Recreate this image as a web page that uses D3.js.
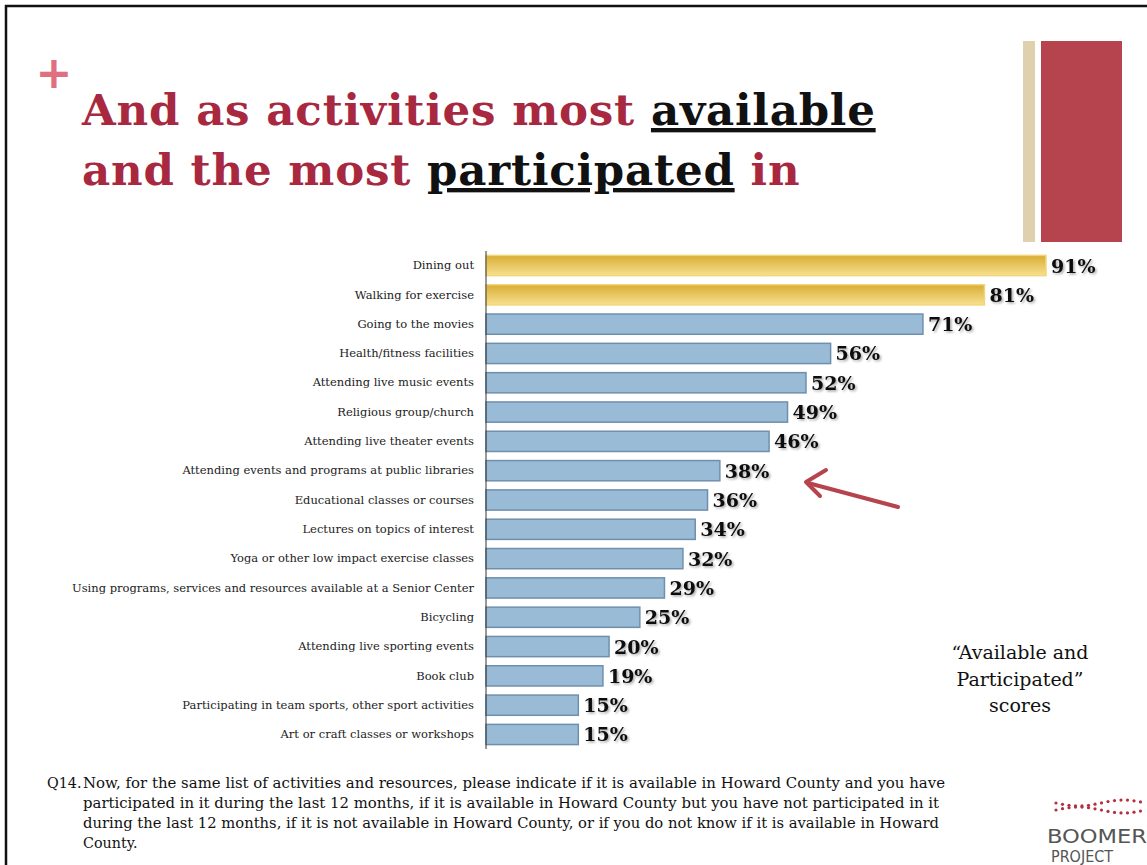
<!DOCTYPE html>
<html><head><meta charset="utf-8">
<script src="https://cdn.jsdelivr.net/npm/d3@7"></script>
<style>body{margin:0;background:#fff}svg{display:block}</style>
</head><body>
<svg id="c" width="1147" height="865"></svg>
<script>
const categories = ["Dining out","Walking for exercise","Going to the movies","Health/fitness facilities","Attending live music events","Religious group/church","Attending live theater events","Attending events and programs at public libraries","Educational classes or courses","Lectures on topics of interest","Yoga or other low impact exercise classes","Using programs, services and resources available at a Senior Center","Bicycling","Attending live sporting events","Book club","Participating in team sports, other sport activities","Art or craft classes or workshops"];
const values = [91,81,71,56,52,49,46,38,36,34,32,29,25,20,19,15,15];
const highlighted = ["Dining out","Walking for exercise"];
const titleLine1 = [["And as activities most ",false],["available",true]];
const titleLine2 = [["and the most ",false],["participated",true],[" in",false]];
const noteLines = ["participated in it during the last 12 months, if it is available in Howard County but you have not participated in it","during the last 12 months, if it is not available in Howard County, or if you do not know if it is available in Howard","County."];
const noteFirst = "Now, for the same list of activities and resources, please indicate if it is available in Howard County and you have";
const annotation = ["\u201CAvailable and","Participated\u201D","scores"];

const svg = d3.select("#c");
const serif = "'DejaVu Serif', serif";
const RED = "#a8293f";

const defs = svg.append("defs");
const gy = defs.append("linearGradient").attr("id","gy").attr("x1",0).attr("x2",0).attr("y1",0).attr("y2",1);
gy.append("stop").attr("offset","0%").attr("stop-color","#d9ad35");
gy.append("stop").attr("offset","100%").attr("stop-color","#f7e08f");
const f = defs.append("filter").attr("id","sh").attr("x","-10%").attr("y","-10%").attr("width","130%").attr("height","140%");
f.append("feDropShadow").attr("dx",1.5).attr("dy",1.5).attr("stdDeviation",1).attr("flood-color","#000").attr("flood-opacity",0.35);

// frame
svg.append("path").attr("d","M6,865 V6 H1147").attr("fill","none").attr("stroke","#111").attr("stroke-width",2.5);

// plus
svg.append("text").attr("x",54).attr("y",88).attr("text-anchor","middle").attr("font-family","'DejaVu Sans', sans-serif").attr("font-weight","bold").attr("font-size",44).attr("fill","#e07080").text("+");

// decorative bars
svg.append("rect").attr("x",1023).attr("y",41).attr("width",12).attr("height",201).attr("fill","#e0d1ae");
svg.append("rect").attr("x",1041).attr("y",41).attr("width",81).attr("height",201).attr("fill","#b5444f");

// title
function titleLine(parts, y){
  const t = svg.append("text").attr("x",82).attr("y",y).attr("font-family",serif).attr("font-weight","bold").attr("font-size",43.5).attr("letter-spacing","0.8");
  parts.forEach(([s,u])=>{
    t.append("tspan").text(s).attr("fill", u ? "#111" : RED).attr("text-decoration", u ? "underline" : null);
  });
}
titleLine(titleLine1,125);
titleLine(titleLine2,185);

// chart
const x0 = 486;
const x = d3.scaleLinear().domain([0,91]).range([x0,1046]);
const y = d3.scaleBand().domain(categories).range([251,749]).paddingInner(0.31).paddingOuter(0.15);

const g = svg.append("g");
g.selectAll("rect.bar").data(categories).join("rect").attr("class","bar")
  .attr("x",x0).attr("y",d=>y(d)).attr("height",y.bandwidth())
  .attr("width",(d,i)=>x(values[i])-x0)
  .attr("fill",d=>highlighted.includes(d)?"url(#gy)":"#9abbd6")
  .attr("stroke",d=>highlighted.includes(d)?"#f2d67a":"#6f90ad").attr("stroke-width",1.5);

g.selectAll("text.val").data(categories).join("text").attr("class","val")
  .attr("x",(d,i)=>x(values[i])+5).attr("y",d=>y(d)+y.bandwidth()/2+7)
  .attr("font-family",serif).attr("font-weight","bold").attr("font-size",19).attr("fill","#111")
  .attr("filter","url(#sh)")
  .text((d,i)=>values[i]+"%");

const yAxis = d3.axisLeft(y).tickSize(0).tickPadding(12);
const ax = svg.append("g").attr("transform",`translate(${x0},0)`).call(yAxis);
ax.select(".domain").attr("stroke","#333").attr("stroke-width",1).attr("d","M0,251V749");
ax.selectAll("text").attr("font-family",serif).attr("font-size",11.5).attr("fill","#222");

// arrow
svg.append("line").attr("x1",898).attr("y1",507).attr("x2",808).attr("y2",483).attr("stroke","#b5444f").attr("stroke-width",4).attr("stroke-linecap","round");
svg.append("path").attr("d","M826,470 L806,482 L820,496").attr("fill","none").attr("stroke","#b5444f").attr("stroke-width",4).attr("stroke-linecap","round").attr("stroke-linejoin","round");

// annotation
annotation.forEach((s,i)=>{
  svg.append("text").attr("x",1020).attr("y",659+i*26.5).attr("text-anchor","middle").attr("font-family",serif).attr("font-size",19).attr("fill","#111").text(s);
});

// footnote
const fs = 14.3;
svg.append("text").attr("x",47).attr("y",788).attr("font-family",serif).attr("font-size",fs).attr("fill","#111").text("Q14.");
svg.append("text").attr("x",83).attr("y",788).attr("font-family",serif).attr("font-size",fs).attr("fill","#111").attr("textLength",862).attr("lengthAdjust","spacingAndGlyphs").text(noteFirst);
const lens=[856,856,null];
noteLines.forEach((s,i)=>{
  const t=svg.append("text").attr("x",83).attr("y",808+i*20).attr("font-family",serif).attr("font-size",fs).attr("fill","#111").text(s);
  if(lens[i]) t.attr("textLength",lens[i]).attr("lengthAdjust","spacingAndGlyphs");
});

// logo
const lg = svg.append("g");
const dots=[];
for(let i=0;i<14;i++){ dots.push([1056+i*6.5, 803+Math.sin(i/2.2)*3]); dots.push([1056+i*6.5, 810-Math.sin(i/2.2)*3]); }
lg.selectAll("circle").data(dots).join("circle").attr("cx",d=>d[0]).attr("cy",d=>d[1]).attr("r",1.6).attr("fill","#b5303f");
lg.append("text").attr("x",1047).attr("y",843).attr("font-family","'Liberation Sans Narrow','DejaVu Sans Condensed',sans-serif").attr("font-size",20).attr("fill","#555").attr("textLength",100).attr("lengthAdjust","spacingAndGlyphs").text("BOOMER");
lg.append("text").attr("x",1051).attr("y",862).attr("font-family","'Liberation Sans Narrow','DejaVu Sans Condensed',sans-serif").attr("font-size",15).attr("fill","#555").attr("textLength",62).attr("lengthAdjust","spacingAndGlyphs").text("PROJECT");
</script>
</body></html>
